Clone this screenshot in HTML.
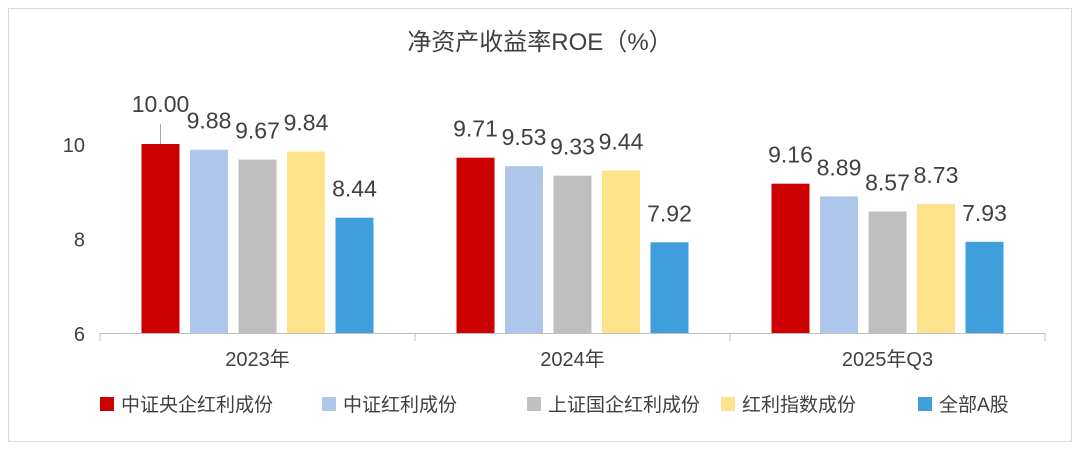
<!DOCTYPE html>
<html><head><meta charset="utf-8"><style>
body{margin:0;background:#fff;width:1080px;height:451px;overflow:hidden}
svg text{font-family:"Liberation Sans","Noto Sans CJK SC",sans-serif;fill:#404040}
</style></head><body>
<svg id="c" width="1080" height="451" xmlns="http://www.w3.org/2000/svg">
<rect x="8.5" y="8.5" width="1063" height="433" fill="#fff" stroke="#d9d9d9"/>
<text x="540" y="50" font-size="24" text-anchor="middle">净资产收益率ROE（%）</text>
<g id="axes"></g><g id="bars"></g><g id="legend"></g>
</svg>
<script>
const categories=["2023年","2024年","2025年Q3"];
const seriesNames=["中证央企红利成份","中证红利成份","上证国企红利成份","红利指数成份","全部A股"];
const s0=[10.00,9.71,9.16];
const s1=[9.88,9.53,8.89];
const s2=[9.67,9.33,8.57];
const s3=[9.84,9.44,8.73];
const s4=[8.44,7.92,7.93];
const yTicks=[6,8,10];
const series=[s0,s1,s2,s3,s4];
const colors=["#cc0000","#aec6ea","#bfbfbf","#ffe28c","#3e9fdc"];
const NS="http://www.w3.org/2000/svg";
const x0=100,x1=1045,yMin=6,yMax=10,py0=333,py1=144;
const y=v=>py0-(v-yMin)/(yMax-yMin)*(py0-py1);
const gw=(x1-x0)/categories.length;
const bw=38,step=48.5;
function el(t,a,p){const e=document.createElementNS(NS,t);for(const k in a)e.setAttribute(k,a[k]);p.appendChild(e);return e;}
const ax=document.getElementById('axes'),bg=document.getElementById('bars'),lg=document.getElementById('legend');
yTicks.forEach(t=>{const e=el('text',{x:85,y:y(t)+8,'font-size':20,'text-anchor':'end'},ax);e.textContent=t;

});
const al=el('line',{x1:x0,x2:x1,y1:py0+0.5,y2:py0+0.5,stroke:'#bfbfbf'},ax);


for(let i=0;i<=categories.length;i++){const tk=el('line',{x1:x0+i*gw,x2:x0+i*gw,y1:py0,y2:py0+8,stroke:'#bfbfbf'},ax);

}
categories.forEach((c,i)=>{const e=el('text',{x:x0+gw*(i+0.5),y:366,'font-size':20,'text-anchor':'middle'},ax);e.textContent=c;

});
categories.forEach((c,i)=>{const cx=x0+gw*(i+0.5);
series.forEach((s,j)=>{const bx=cx+(j-2)*step-bw/2;const v=s[i];
const r=el('rect',{x:bx,y:y(v),width:bw,height:py0-y(v),fill:colors[j]},bg);


let ly=y(v)-21;
if(j===0&&i===0){ly=y(v)-32;const ln=el('line',{x1:bx+bw/2,x2:bx+bw/2,y1:y(v)-20,y2:y(v),stroke:'#a6a6a6'},bg);

}
const t=el('text',{x:bx+bw/2,y:ly,'font-size':23,'text-anchor':'middle'},bg);t.textContent=v.toFixed(2);

});});
const lx=[100,322,527,721,918];
seriesNames.forEach((n,j)=>{const g=el('g',{},lg);


el('rect',{x:lx[j],y:397,width:14,height:14,fill:colors[j]},g);
const t=el('text',{x:lx[j]+21,y:411,'font-size':19},g);t.textContent=n;});
</script>
</body></html>
